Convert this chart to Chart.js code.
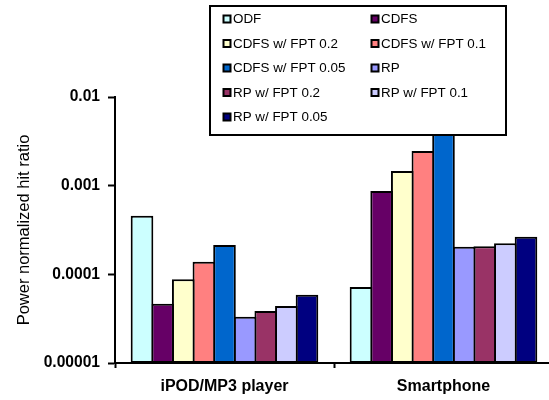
<!DOCTYPE html>
<html>
<head>
<meta charset="utf-8">
<script src="https://cdn.jsdelivr.net/npm/chart.js@4/dist/chart.umd.min.js"></script>
<style>
  html, body { margin: 0; padding: 0; background: #ffffff; overflow: hidden; }
  #wrap { width: 549px; height: 400px; overflow: hidden; }
  canvas { display: block; }
</style>
</head>
<body>
<div id="wrap"><canvas id="chart" width="553" height="400"></canvas></div>
<script>
// Devices on the category axis
const categories = ['iPOD/MP3 player', 'Smartphone'];

// Power normalized hit ratio per scheme, one value per device
const odf          = [0.000458, 0.0000719];
const cdfs         = [0.0000467, 0.000869];
const cdfsFpt02    = [0.000088, 0.00146];
const cdfsFpt01    = [0.000139, 0.00246];
const cdfsFpt005   = [0.000214, 0.0040];
const rp           = [0.0000332, 0.000205];
const rpFpt02      = [0.0000386, 0.000208];
const rpFpt01      = [0.0000439, 0.000224];
const rpFpt005     = [0.0000589, 0.000265];

// Log axis decades and their printed labels
const yTickValues = [0.00001, 0.0001, 0.001, 0.01];
const yTickLabels = ['0.00001', '0.0001', '0.001', '0.01'];

const FONT = '"Liberation Sans", Arial, Helvetica, sans-serif';

function series(label, data, color) {
  return {
    label: label,
    data: data,
    backgroundColor: color,
    borderColor: '#000000',
    borderWidth: 2,
    borderSkipped: false
  };
}

const datasets = [
  series('ODF', odf, '#CCFFFF'),
  series('CDFS', cdfs, '#660066'),
  series('CDFS w/ FPT 0.2', cdfsFpt02, '#FFFFCC'),
  series('CDFS w/ FPT 0.1', cdfsFpt01, '#FF8080'),
  series('CDFS w/ FPT 0.05', cdfsFpt005, '#0066CC'),
  series('RP', rp, '#9999FF'),
  series('RP w/ FPT 0.2', rpFpt02, '#993366'),
  series('RP w/ FPT 0.1', rpFpt01, '#CCCCFF'),
  series('RP w/ FPT 0.05', rpFpt005, '#000080')
];

// Boxed two-column legend drawn over the plot
const boxLegend = {
  id: 'boxLegend',
  afterDraw(chart) {
    const ctx = chart.ctx;
    const box = { x: 210, y: 6, w: 296, h: 129 };
    ctx.save();
    ctx.fillStyle = '#ffffff';
    ctx.fillRect(box.x, box.y, box.w, box.h);
    ctx.lineWidth = 2;
    ctx.strokeStyle = '#000000';
    ctx.strokeRect(box.x, box.y, box.w, box.h);

    const colX = [223, 371];
    const rowY0 = 19, rowStep = 24.5;
    ctx.font = '13.4px ' + FONT;
    ctx.textBaseline = 'middle';
    ctx.textAlign = 'left';
    chart.data.datasets.forEach((ds, i) => {
      const col = i % 2, row = Math.floor(i / 2);
      const x = colX[col], y = rowY0 + row * rowStep;
      ctx.fillStyle = '#000000';
      ctx.fillRect(x - 0.5, y - 4.5, 9, 9);
      ctx.fillStyle = ds.backgroundColor;
      ctx.fillRect(x + 1.5, y - 2.5, 5, 5);
      ctx.fillStyle = '#000000';
      ctx.fillText(ds.label, x + 10, y + 0.5);
    });
    ctx.restore();
  }
};

new Chart(document.getElementById('chart'), {
  type: 'bar',
  data: { labels: categories, datasets: datasets },
  plugins: [boxLegend],
  options: {
    responsive: false,
    animation: false,
    events: [],
    layout: { padding: { top: 97, left: 0, right: 0, bottom: 0 } },
    // bars slightly wider than their slot so neighbouring outlines share one line
    datasets: { bar: { categoryPercentage: 0.8475, barPercentage: 1.097 } },
    plugins: { legend: { display: false }, tooltip: { enabled: false }, title: { display: false } },
    scales: {
      x: {
        type: 'category',
        offset: true,
        grid: {
          offset: true,
          drawOnChartArea: false,
          drawTicks: true,
          tickLength: 5,
          tickWidth: 2,
          tickColor: '#000000'
        },
        border: { display: true, color: '#000000', width: 2 },
        ticks: {
          color: '#000000',
          padding: 9,
          maxRotation: 0,
          font: { family: FONT, size: 16, weight: 'bold' }
        },
        afterFit(scale) { scale.height = 37; }
      },
      y: {
        type: 'logarithmic',
        min: 0.00001,
        max: 0.01,
        grid: {
          drawOnChartArea: false,
          drawTicks: true,
          tickLength: 7,
          tickWidth: 2,
          tickColor: '#000000'
        },
        border: { display: true, color: '#000000', width: 2 },
        afterBuildTicks(scale) {
          scale.ticks = yTickValues.map(v => ({ value: v, major: false }));
        },
        ticks: {
          color: '#000000',
          padding: 8,
          autoSkip: false,
          font: { family: FONT, size: 15.6, weight: 'bold' },
          callback(value) {
            const i = yTickValues.findIndex(v => Math.abs(v - value) / v < 1e-6);
            return i >= 0 ? yTickLabels[i] : '';
          }
        },
        title: {
          display: true,
          text: 'Power normalized hit ratio',
          color: '#000000',
          font: { family: FONT, size: 16.5, weight: 'normal' },
          padding: { top: 15, bottom: 0 }
        },
        afterFit(scale) { scale.width = 115; }
      }
    }
  }
});
</script>
</body>
</html>
